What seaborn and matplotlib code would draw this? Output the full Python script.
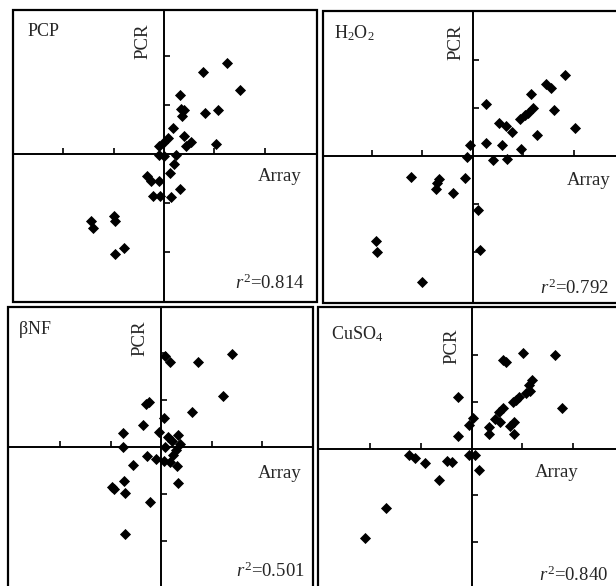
import matplotlib
matplotlib.use("Agg")
import matplotlib.pyplot as plt
import seaborn as sns
import pandas as pd

sns.set_theme(style="white")
plt.rcParams['font.family'] = ['Liberation Serif', 'DejaVu Serif']
plt.rcParams['mathtext.fontset'] = 'custom'
plt.rcParams['mathtext.rm'] = 'Liberation Serif'
plt.rcParams['mathtext.it'] = 'Liberation Serif:italic'

# ---------------- data (array log-ratio vs PCR log-ratio) ----------------
pcp_x = [1.26, 0.77, 1.52, 0.31, 0.34, 0.40, 0.36, 0.82, 1.07, 0.18, 0.08, -0.02,
         -0.10, 0.40, 0.54, 0.44, 1.03, -0.09, 0.00, 0.23, 0.19, 0.11, -0.34, -0.25,
         -0.09, 0.31, -0.22, -0.07, 0.13, -1.46, -1.41, -1.00, -0.98, -0.80, -0.98]
pcp_y = [1.86, 1.67, 1.31, 1.21, 0.92, 0.90, 0.77, 0.84, 0.89, 0.53, 0.33, 0.22,
         0.16, 0.37, 0.24, 0.16, 0.21, -0.01, -0.05, -0.01, -0.20, -0.39, -0.44, -0.56,
         -0.56, -0.71, -0.86, -0.86, -0.88, -1.37, -1.51, -1.26, -1.37, -1.92, -2.05]

h2o2_x = [1.82, 1.44, 1.54, 1.14, 0.26, 1.19, 1.09, 1.03, 0.94, 1.60, 0.52, 0.65,
          0.77, 2.02, 1.26, -0.05, 0.25, 0.58, 0.96, -0.12, 0.40, 0.68, -1.23, -0.68,
          -0.72, -0.74, -0.40, -0.15, 0.10, 0.13, -1.92, -1.91, -1.01]
h2o2_y = [1.68, 1.49, 1.42, 1.30, 1.09, 0.99, 0.90, 0.85, 0.78, 0.95, 0.69, 0.62,
          0.50, 0.58, 0.43, 0.24, 0.27, 0.22, 0.15, -0.02, -0.08, -0.06, -0.44, -0.47,
          -0.56, -0.68, -0.77, -0.45, -1.13, -1.95, -1.77, -2.00, -2.63]

bnf_x = [1.41, 0.74, 0.08, 0.18, 1.23, 0.61, -0.30, -0.23, 0.05, -0.35, -0.76, -0.03,
         0.14, 0.34, 0.21, 0.38, 0.08, -0.76, 0.30, 0.24, -0.28, -0.10, 0.05, 0.18,
         0.32, -0.55, -0.74, -0.94, -0.71, 0.33, -0.22, -0.71, -0.97]
bnf_y = [1.98, 1.80, 1.94, 1.80, 1.09, 0.75, 0.91, 0.96, 0.61, 0.46, 0.29, 0.32,
         0.21, 0.25, 0.13, 0.07, 0.01, 0.00, -0.06, -0.16, -0.19, -0.25, -0.29, -0.32,
         -0.41, -0.38, -0.73, -0.89, -0.98, -0.77, -1.16, -1.86, -0.86]

cuso4_x = [1.65, 1.01, 0.61, 0.68, 1.20, 1.13, 1.16, 1.07, 0.94, 0.88, 0.81, 1.78,
           0.61, 0.55, 0.47, 0.56, 0.84, 0.76, 0.84, 0.34, 0.34, -0.26, 0.02, -0.05,
           -0.26, -0.05, 0.07, 0.14, -1.23, -1.11, -0.91, -0.49, -0.38, -0.63, -1.68, -2.10]
cuso4_y = [2.00, 2.04, 1.89, 1.85, 1.47, 1.36, 1.23, 1.18, 1.10, 1.03, 0.99, 0.87,
           0.87, 0.77, 0.62, 0.57, 0.57, 0.48, 0.32, 0.46, 0.30, 1.10, 0.65, 0.51,
           0.26, -0.14, -0.14, -0.45, -0.13, -0.21, -0.30, -0.27, -0.28, -0.68, -1.28, -1.90]

treatments = [r"PCP", r"$\mathrm{H_2O_2}$", r"$\mathrm{\beta NF}$", r"$\mathrm{CuSO_4}$"]
r2_values = ["0.814", "0.792", "0.501", "0.840"]
axis_ticks = [-2, -1, 1, 2]
xlabel_text = "Array"
ylabel_text = "PCR"

series = [(pcp_x, pcp_y), (h2o2_x, h2o2_y), (bnf_x, bnf_y), (cuso4_x, cuso4_y)]

# ---------------- layout (pixel geometry of the scanned panels) ----------------
W, H = 616, 586
fig = plt.figure(figsize=(W / 100, H / 100), dpi=100)

# (left, top, right, bottom) in px, and data limits (xmin, xmax, ymin, ymax)
boxes = [(13, 10, 317, 302), (323, 11, 624, 303), (8, 307, 313, 588), (318, 307, 625, 590)]
limits = [(-3.0, 3.04, -3.02, 2.94), (-2.97, 2.99, -3.06, 3.02),
          (-3.03, 3.01, -3.0, 2.98), (-3.02, 3.02, -3.02, 3.02)]
label_pos = [(-2.72, 2.51), (-2.75, 2.56), (-2.83, 2.51), (-2.76, 2.45)]
pcr_pos = [(-0.41, 2.31), (-0.34, 2.37), (-0.42, 2.32), (-0.39, 2.19)]
array_pos = [(2.74, -0.29), (2.73, -0.33), (2.79, -0.38), (2.10, -0.34)]
r2_pos = [(2.80, -2.76), (2.69, -2.875), (2.85, -2.77), (2.69, -2.83)]

for i, (xs, ys) in enumerate(series):
    l, t, r, b = boxes[i]
    ax = fig.add_axes([l / W, 1 - b / H, (r - l) / W, (b - t) / H])
    df = pd.DataFrame({"Array": xs, "PCR": ys})
    sns.scatterplot(data=df, x="Array", y="PCR", ax=ax, marker="D", color="black",
                    s=32, linewidth=0, zorder=3, clip_on=False)
    xmin, xmax, ymin, ymax = limits[i]
    ax.set_xlim(xmin, xmax)
    ax.set_ylim(ymin, ymax)

    # frame
    ax.patch.set_facecolor("white")
    ax.patch.set_edgecolor("black")
    ax.patch.set_linewidth(1.6)

    # centred axes through origin
    ax.spines["left"].set_position(("data", 0))
    ax.spines["bottom"].set_position(("data", 0))
    ax.spines["top"].set_visible(False)
    ax.spines["right"].set_visible(False)
    for s in ("left", "bottom"):
        ax.spines[s].set_color("black")
        ax.spines[s].set_linewidth(1.4)
        ax.spines[s].set_visible(True)
    ax.set_xticks(axis_ticks)
    ax.set_yticks(axis_ticks)
    ax.set_xticklabels([])
    ax.set_yticklabels([])
    ax.tick_params(axis="both", direction="in", length=4, width=1.2, color="black",
                   bottom=True, left=True)
    ax.set_xlabel("")
    ax.set_ylabel("")

    lx, ly = label_pos[i]
    ax.text(lx, ly, treatments[i], fontsize=13, ha="left", va="center")
    px, py = pcr_pos[i]
    ax.text(px, py, ylabel_text, fontsize=13.5, rotation=90, ha="center", va="center")
    axx, axy = array_pos[i]
    ax.text(axx, axy, xlabel_text, fontsize=13.5, ha="right", va="top")
    rx, ry = r2_pos[i]
    ax.text(rx, ry, r"$r^2$=" + r2_values[i], fontsize=13.5, ha="right", va="baseline")

fig.savefig("out.png", dpi=100)
